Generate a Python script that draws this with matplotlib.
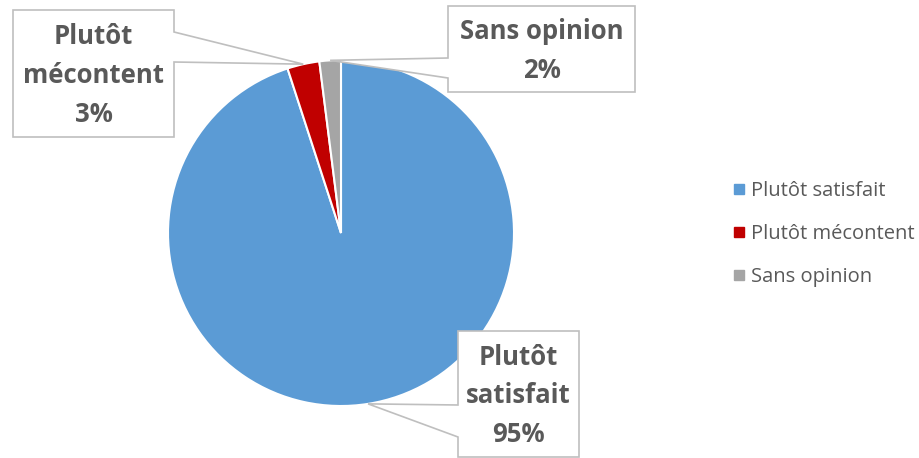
import matplotlib
matplotlib.use("Agg")
import matplotlib.pyplot as plt
from matplotlib.patches import Polygon
from matplotlib.lines import Line2D
import numpy as np

categories = ["Plutôt satisfait", "Plutôt mécontent", "Sans opinion"]
values = [95, 3, 2]
box_labels = ["Plutôt\nsatisfait\n95%", "Plutôt\nmécontent\n3%", "Sans opinion\n2%"]
colors = ["#5B9BD5", "#C00000", "#A5A5A5"]

W, H = 920, 458
CX, CY, R = 341, 233, 173
TXT = "#595959"
EDGE = "#BFBFBF"
FONT = ["Open Sans", "DejaVu Sans"]

fig = plt.figure(figsize=(W / 100, H / 100), dpi=100)
ax = fig.add_axes([0, 0, 1, 1])

def P(x, y):
    return ((x - CX) / R, (CY - y) / R)

wedges, _ = ax.pie(values, colors=colors, startangle=90, counterclock=False,
                   radius=1, center=(0, 0),
                   wedgeprops=dict(edgecolor="white", linewidth=1.5))
ax.set_xlim(-CX / R, (W - CX) / R)
ax.set_ylim(-(H - CY) / R, CY / R)
ax.axis("off")

# mid-angle tips on the pie edge
tips = []
for w in wedges:
    a = np.deg2rad((w.theta1 + w.theta2) / 2)
    tips.append((np.cos(a), np.sin(a)))

# callout boxes (pixel geometry): left, top, right, bottom, side, y1, y2
boxes = [
    (458, 331, 579, 457, "left", 405, 437),
    (13, 10, 174, 137, "right", 32, 62),
    (448, 6, 635, 92, "left", 58, 78),
]

for (l, t, r, b, side, y1, y2), tip, lab in zip(boxes, tips, box_labels):
    if side == "right":
        pts = [P(l, t), P(r, t), P(r, y1), tip, P(r, y2), P(r, b), P(l, b)]
    else:
        pts = [P(l, t), P(r, t), P(r, b), P(l, b), P(l, y2), tip, P(l, y1)]
    ax.add_patch(Polygon(pts, closed=True, facecolor="white", edgecolor=EDGE,
                         linewidth=1.2, zorder=5))
    cx, cy = P((l + r) / 2, (t + b) / 2 + 2)
    ax.text(cx, cy, lab, ha="center", va="center", multialignment="center",
            fontsize=18.5, fontweight="bold", color=TXT, family=FONT,
            linespacing=1.55, zorder=6)

handles = [Line2D([], [], marker="s", linestyle="none", markersize=7,
                  markerfacecolor=c, markeredgecolor=c) for c in colors]
leg = fig.legend(handles, categories, loc="upper left",
                 bbox_to_anchor=(716 / W, 1 - 163 / H), frameon=False,
                 handlelength=0.5, handletextpad=0.35, labelspacing=1.15,
                 prop=dict(family=FONT, size=14.5))
for t in leg.get_texts():
    t.set_color(TXT)

fig.savefig("out.png", dpi=100)
